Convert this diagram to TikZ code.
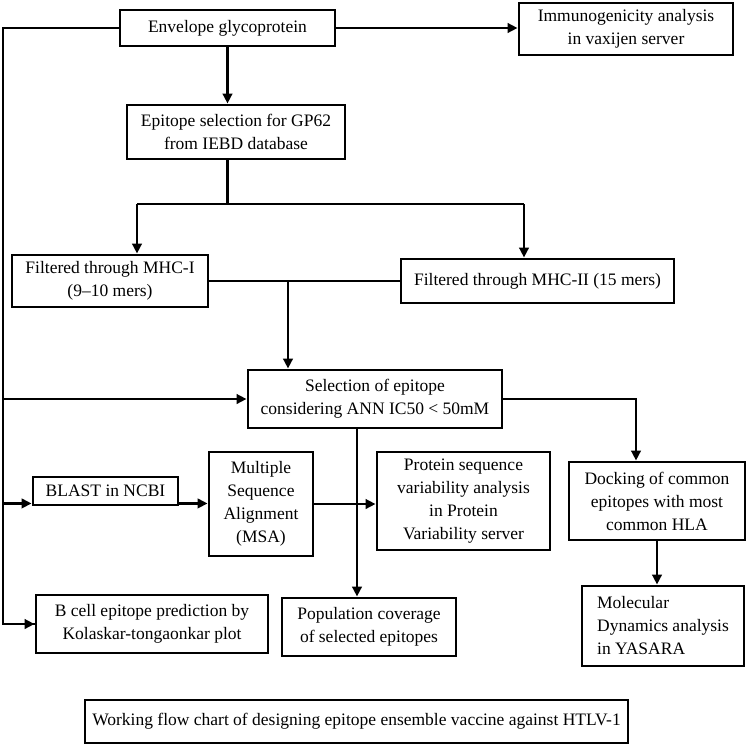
\documentclass[tikz,border=0pt]{standalone}
\usepackage{fontspec}
\setmainfont{Liberation Serif}
\usetikzlibrary{arrows.meta,positioning}
\tikzset{
  >={Triangle[length=10pt,width=9.5pt]},
  every picture/.style={line join=miter},
  box/.style={draw, line width=2.9pt, align=center, inner sep=2pt,
    font=\fontsize{17.5}{23}\selectfont},
  link/.style={line width=2.6pt},
  arr/.style={link, ->},
}

\begin{document}
\begin{tikzpicture}[x=1pt, y=-1pt]
\useasboundingbox (0,0) rectangle (746,745);
% ------------------------------------------------------------- boxes
\node[box, minimum width=215pt, minimum height=36pt] (env) at (227.5,28) {Envelope glycoprotein};
\node[box, minimum width=214pt, minimum height=52pt] (immu) at (626,29) {Immunogenicity analysis\\in vaxijen server};
\node[box, minimum width=218pt, minimum height=54pt] (episel) at (236,132) {Epitope selection for GP62\\from IEBD database};
\node[box, minimum width=196pt, minimum height=52pt] (mhcone) at (110,281) {Filtered through MHC-I\\(9--10 mers)};
\node[box, minimum width=273pt, minimum height=44pt] (mhctwo) at (537.5,281) {Filtered through MHC-II (15 mers)};
\node[box, minimum width=254pt, minimum height=58pt] (sel) at (375,399) {Selection of epitope\\considering ANN IC50 < 50mM};
\node[box, minimum width=145pt, minimum height=28pt] (blast) at (105.5,491) {BLAST in NCBI};
\node[box, minimum width=104pt, minimum height=104pt] (msa) at (261,504) {Multiple\\Sequence\\Alignment\\(MSA)};
\node[box, minimum width=173pt, minimum height=98pt] (prot) at (463.5,501) {Protein sequence\\variability analysis\\in Protein\\Variability server};
\node[box, minimum width=176pt, minimum height=78pt] (dock) at (657,501) {Docking of common\\epitopes with most\\common HLA};
\node[box, minimum width=232pt, minimum height=58pt] (bcell) at (152,624) {B cell epitope prediction by\\Kolaskar-tongaonkar plot};
\node[box, minimum width=174pt, minimum height=58pt] (pop) at (369,627) {Population coverage\\of selected epitopes};
\node[box, minimum width=162pt, minimum height=80pt, align=left] (mol) at (663,626) {Molecular\\Dynamics analysis\\in YASARA};
\node[box, minimum width=543pt, minimum height=43pt] (cap) at (356.5,721.5) {Working flow chart of designing epitope ensemble vaccine against HTLV-1};

% ------------------------------------------------------------- joints
\coordinate (trunk) at (3,0);
\coordinate (spL) at (137,204);
\coordinate (spR) at (524,204);
\coordinate (join) at (288,282);

% ------------------------------------------------------------- links
\draw[link] (env.west) -- (env.west -| trunk) |- (bcell.west);
\draw[arr] (bcell.west -| trunk) -- (bcell.west);
\draw[arr] (sel.west -| trunk) -- (sel.west);
\draw[arr] ([yshift=3pt]blast.south west -| trunk) -- ([yshift=3pt]blast.south west);
\draw[arr] (env.east) -- (env.east -| immu.west);
\draw[arr] (env.south) -- (env.south |- episel.north);
\draw[link] (env.south |- episel.south) -- (env.south |- spL);
\draw[link] (spL) -- (spR);
\draw[arr] (spL) -- (spL |- mhcone.north);
\draw[arr] (spR) -- (spR |- mhctwo.north);
\draw[link] (mhcone.east) -- (mhctwo.west);
\draw[arr] (join) -- (join |- sel.north);
\draw[arr] ([yshift=3pt]blast.south east) -- ([yshift=3pt]blast.south east -| msa.west);
\draw[arr] (msa.east) -- (msa.east -| prot.west);
\draw[arr] ([xshift=-18pt]sel.south) -- ([xshift=-18pt]sel.south |- pop.north);
\draw[arr] (sel.east) -| ([xshift=-21pt]dock.north);
\draw[arr] (dock.south) -- (dock.south |- mol.north);
\end{tikzpicture}
\end{document}
